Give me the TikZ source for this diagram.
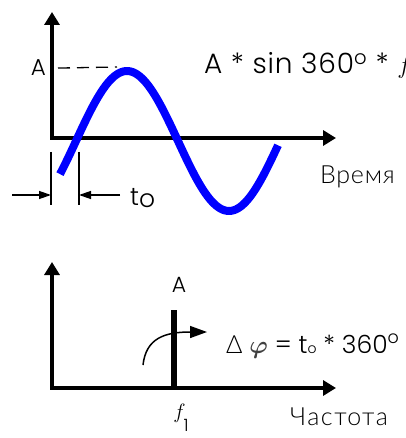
\documentclass[tikz,border=0pt]{standalone}
\usepackage{fontspec}
\usepackage{tikz}
\usetikzlibrary{arrows.meta,positioning}
\IfFontExistsTF{Poppins Light}{\setmainfont{Poppins Light}}{\setmainfont{Poppins}}
\IfFontExistsTF{Lato Light}{\newfontfamily\cyrfont{Lato Light}}{\newfontfamily\cyrfont{Lato}}

\begin{document}
\begin{tikzpicture}[x=1pt,y=-1pt,
	axis/.style={line width=4pt, line join=miter, {Triangle[length=13pt,width=15pt]}-{Triangle[length=13pt,width=15pt]}},
	marker/.style={line width=1.3pt},
	dim/.style={line width=1.3pt, -{Triangle[length=12pt,width=8pt]}},
	lbl/.style={inner sep=0pt, font=\fontsize{25}{30}\selectfont}
	]
	\useasboundingbox (0,0) rectangle (405,438);
	
	\coordinate (torig) at (52,138);
	\coordinate (tyend) at (52,12);
	\coordinate (txend) at (336,138);
	\draw[axis] (tyend) -- (torig) -- (txend);
	\draw[blue, line width=8pt] plot[domain=60:278, samples=100, smooth] (\x,{141-70*sin((\x-76)*1.7647)});
	
	\node[lbl, font=\fontsize{23}{26}\selectfont, anchor=base east] (ampl) at (46,76) {A};
	\coordinate (peak) at (117,67);
	\draw[marker, dash pattern=on 12pt off 7pt] ([xshift=12pt]ampl.east) -- (peak);
	\node[lbl, font=\fontsize{28}{30}\selectfont\addfontfeature{LetterSpace=3}, anchor=base west] (formula) at (204,74) {A * sin 360\textsuperscript{o} * $f$};
	\node[lbl, anchor=base west] (vremya) at (320,183) {\cyrfont\addfontfeature{LetterSpace=3}Время};
	
	\coordinate (m1top) at (51,152);
	\coordinate (m1bot) at (51,205);
	\coordinate (m2top) at (79,152);
	\coordinate (m2bot) at (79,205);
	\draw[marker] (m1top) -- (m1bot);
	\draw[marker] (m2top) -- (m2bot);
	\coordinate (dl) at (12,195);
	\coordinate (dr) at (120,195);
	\draw[dim] (dl) -- (dl -| m1top);
	\draw[dim] (dr) -- (dr -| m2top);
	\node[lbl, anchor=base west] (tzero) at (130,205) {t\raisebox{-2pt}{o}};
	
	\coordinate (forig) at (52,388);
	\coordinate (fyend) at (52,262);
	\coordinate (fxend) at (336,388);
	\draw[axis] (fyend) -- (forig) -- (fxend);
	\coordinate (phs) at (143,365);
	\coordinate (phe) at (207,332);
	\draw[line width=1.5pt, -{Triangle[length=17pt,width=12pt]}] (phs) .. controls (146,338) and (165,332) .. (phe);
	\coordinate (f1bot) at (174,388);
	\coordinate (f1top) at (174,310);
	\draw[line width=6pt] (f1bot) -- (f1top);
	\node[lbl, font=\fontsize{22}{26}\selectfont, above=17pt of f1top, xshift=5pt] (amplf) {A};
	\node[lbl, anchor=base west] (dphi) at (226,353) {{\cyrfont Δ} {\color{black!75}\boldmath$\varphi$} = t{\fontsize{14}{14}\selectfont o} * 360\textsuperscript{o}};
	\node[lbl, anchor=base] (f1) at (181,418) {{\fontsize{20}{24}\selectfont$f$}\hspace{-2pt}\raisebox{-13pt}{\fontsize{17}{20}\selectfont 1}};
	\node[lbl, anchor=base west] (chastota) at (290,425) {\cyrfont\addfontfeature{LetterSpace=6}Частота};
\end{tikzpicture}
\end{document}
